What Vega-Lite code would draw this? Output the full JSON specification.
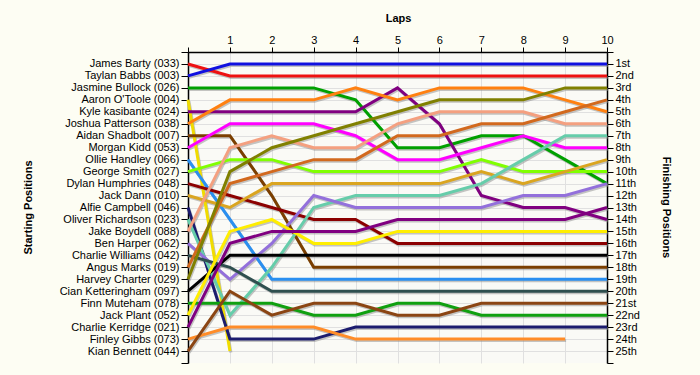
{
"$schema":"https://vega.github.io/schema/vega-lite/v6.json",
"width":419,"height":311,
"autosize":"none",
"padding":{"left":188,"top":52,"right":93,"bottom":12},
"background":"#fdfdf3",
"config":{"view":{"stroke":null,"fill":"#fafaf6"},"font":"Liberation Sans"},
"data":{"values":[
{"id":1,"lap":0,"pos":1},{"id":1,"lap":1,"pos":2},{"id":1,"lap":2,"pos":2},{"id":1,"lap":3,"pos":2},{"id":1,"lap":4,"pos":2},{"id":1,"lap":5,"pos":2},{"id":1,"lap":6,"pos":2},{"id":1,"lap":7,"pos":2},{"id":1,"lap":8,"pos":2},{"id":1,"lap":9,"pos":2},{"id":1,"lap":10,"pos":2},
{"id":2,"lap":0,"pos":2},{"id":2,"lap":1,"pos":1},{"id":2,"lap":2,"pos":1},{"id":2,"lap":3,"pos":1},{"id":2,"lap":4,"pos":1},{"id":2,"lap":5,"pos":1},{"id":2,"lap":6,"pos":1},{"id":2,"lap":7,"pos":1},{"id":2,"lap":8,"pos":1},{"id":2,"lap":9,"pos":1},{"id":2,"lap":10,"pos":1},
{"id":3,"lap":0,"pos":3},{"id":3,"lap":1,"pos":3},{"id":3,"lap":2,"pos":3},{"id":3,"lap":3,"pos":3},{"id":3,"lap":4,"pos":4},{"id":3,"lap":5,"pos":8},{"id":3,"lap":6,"pos":8},{"id":3,"lap":7,"pos":7},{"id":3,"lap":8,"pos":7},{"id":3,"lap":9,"pos":9},{"id":3,"lap":10,"pos":11},
{"id":4,"lap":0,"pos":4},{"id":4,"lap":1,"pos":25},
{"id":5,"lap":0,"pos":5},{"id":5,"lap":1,"pos":5},{"id":5,"lap":2,"pos":5},{"id":5,"lap":3,"pos":5},{"id":5,"lap":4,"pos":5},{"id":5,"lap":5,"pos":3},{"id":5,"lap":6,"pos":6},{"id":5,"lap":7,"pos":12},{"id":5,"lap":8,"pos":13},{"id":5,"lap":9,"pos":13},{"id":5,"lap":10,"pos":14},
{"id":6,"lap":0,"pos":6},{"id":6,"lap":1,"pos":4},{"id":6,"lap":2,"pos":4},{"id":6,"lap":3,"pos":4},{"id":6,"lap":4,"pos":3},{"id":6,"lap":5,"pos":4},{"id":6,"lap":6,"pos":3},{"id":6,"lap":7,"pos":3},{"id":6,"lap":8,"pos":3},{"id":6,"lap":9,"pos":4},{"id":6,"lap":10,"pos":5},
{"id":7,"lap":0,"pos":7},{"id":7,"lap":1,"pos":7},{"id":7,"lap":2,"pos":12},{"id":7,"lap":3,"pos":18},{"id":7,"lap":4,"pos":18},{"id":7,"lap":5,"pos":18},{"id":7,"lap":6,"pos":18},{"id":7,"lap":7,"pos":18},{"id":7,"lap":8,"pos":18},{"id":7,"lap":9,"pos":18},{"id":7,"lap":10,"pos":18},
{"id":8,"lap":0,"pos":8},{"id":8,"lap":1,"pos":6},{"id":8,"lap":2,"pos":6},{"id":8,"lap":3,"pos":6},{"id":8,"lap":4,"pos":7},{"id":8,"lap":5,"pos":9},{"id":8,"lap":6,"pos":9},{"id":8,"lap":7,"pos":8},{"id":8,"lap":8,"pos":7},{"id":8,"lap":9,"pos":8},{"id":8,"lap":10,"pos":8},
{"id":9,"lap":0,"pos":9},{"id":9,"lap":1,"pos":14},{"id":9,"lap":2,"pos":19},{"id":9,"lap":3,"pos":19},{"id":9,"lap":4,"pos":19},{"id":9,"lap":5,"pos":19},{"id":9,"lap":6,"pos":19},{"id":9,"lap":7,"pos":19},{"id":9,"lap":8,"pos":19},{"id":9,"lap":9,"pos":19},{"id":9,"lap":10,"pos":19},
{"id":10,"lap":0,"pos":10},{"id":10,"lap":1,"pos":9},{"id":10,"lap":2,"pos":9},{"id":10,"lap":3,"pos":10},{"id":10,"lap":4,"pos":10},{"id":10,"lap":5,"pos":10},{"id":10,"lap":6,"pos":10},{"id":10,"lap":7,"pos":9},{"id":10,"lap":8,"pos":10},{"id":10,"lap":9,"pos":10},{"id":10,"lap":10,"pos":10},
{"id":11,"lap":0,"pos":11},{"id":11,"lap":1,"pos":12},{"id":11,"lap":2,"pos":13},{"id":11,"lap":3,"pos":14},{"id":11,"lap":4,"pos":14},{"id":11,"lap":5,"pos":16},{"id":11,"lap":6,"pos":16},{"id":11,"lap":7,"pos":16},{"id":11,"lap":8,"pos":16},{"id":11,"lap":9,"pos":16},{"id":11,"lap":10,"pos":16},
{"id":12,"lap":0,"pos":12},{"id":12,"lap":1,"pos":13},{"id":12,"lap":2,"pos":11},{"id":12,"lap":3,"pos":11},{"id":12,"lap":4,"pos":11},{"id":12,"lap":5,"pos":11},{"id":12,"lap":6,"pos":11},{"id":12,"lap":7,"pos":10},{"id":12,"lap":8,"pos":11},{"id":12,"lap":9,"pos":10},{"id":12,"lap":10,"pos":9},
{"id":13,"lap":0,"pos":13},{"id":13,"lap":1,"pos":24},{"id":13,"lap":2,"pos":24},{"id":13,"lap":3,"pos":24},{"id":13,"lap":4,"pos":23},{"id":13,"lap":5,"pos":23},{"id":13,"lap":6,"pos":23},{"id":13,"lap":7,"pos":23},{"id":13,"lap":8,"pos":23},{"id":13,"lap":9,"pos":23},{"id":13,"lap":10,"pos":23},
{"id":14,"lap":0,"pos":14},{"id":14,"lap":1,"pos":22},{"id":14,"lap":2,"pos":18},{"id":14,"lap":3,"pos":13},{"id":14,"lap":4,"pos":12},{"id":14,"lap":5,"pos":12},{"id":14,"lap":6,"pos":12},{"id":14,"lap":7,"pos":11},{"id":14,"lap":8,"pos":9},{"id":14,"lap":9,"pos":7},{"id":14,"lap":10,"pos":7},
{"id":15,"lap":0,"pos":15},{"id":15,"lap":1,"pos":8},{"id":15,"lap":2,"pos":7},{"id":15,"lap":3,"pos":8},{"id":15,"lap":4,"pos":8},{"id":15,"lap":5,"pos":6},{"id":15,"lap":6,"pos":5},{"id":15,"lap":7,"pos":5},{"id":15,"lap":8,"pos":5},{"id":15,"lap":9,"pos":6},{"id":15,"lap":10,"pos":6},
{"id":16,"lap":0,"pos":16},{"id":16,"lap":1,"pos":19},{"id":16,"lap":2,"pos":16},{"id":16,"lap":3,"pos":12},{"id":16,"lap":4,"pos":13},{"id":16,"lap":5,"pos":13},{"id":16,"lap":6,"pos":13},{"id":16,"lap":7,"pos":13},{"id":16,"lap":8,"pos":12},{"id":16,"lap":9,"pos":12},{"id":16,"lap":10,"pos":11},
{"id":17,"lap":0,"pos":17},{"id":17,"lap":1,"pos":18},{"id":17,"lap":2,"pos":20},{"id":17,"lap":3,"pos":20},{"id":17,"lap":4,"pos":20},{"id":17,"lap":5,"pos":20},{"id":17,"lap":6,"pos":20},{"id":17,"lap":7,"pos":20},{"id":17,"lap":8,"pos":20},{"id":17,"lap":9,"pos":20},{"id":17,"lap":10,"pos":20},
{"id":18,"lap":0,"pos":18},{"id":18,"lap":1,"pos":11},{"id":18,"lap":2,"pos":10},{"id":18,"lap":3,"pos":9},{"id":18,"lap":4,"pos":9},{"id":18,"lap":5,"pos":7},{"id":18,"lap":6,"pos":7},{"id":18,"lap":7,"pos":6},{"id":18,"lap":8,"pos":6},{"id":18,"lap":9,"pos":5},{"id":18,"lap":10,"pos":4},
{"id":19,"lap":0,"pos":19},{"id":19,"lap":1,"pos":10},{"id":19,"lap":2,"pos":8},{"id":19,"lap":3,"pos":7},{"id":19,"lap":4,"pos":6},{"id":19,"lap":5,"pos":5},{"id":19,"lap":6,"pos":4},{"id":19,"lap":7,"pos":4},{"id":19,"lap":8,"pos":4},{"id":19,"lap":9,"pos":3},{"id":19,"lap":10,"pos":3},
{"id":20,"lap":0,"pos":20},{"id":20,"lap":1,"pos":17},{"id":20,"lap":2,"pos":17},{"id":20,"lap":3,"pos":17},{"id":20,"lap":4,"pos":17},{"id":20,"lap":5,"pos":17},{"id":20,"lap":6,"pos":17},{"id":20,"lap":7,"pos":17},{"id":20,"lap":8,"pos":17},{"id":20,"lap":9,"pos":17},{"id":20,"lap":10,"pos":17},
{"id":21,"lap":0,"pos":21},{"id":21,"lap":1,"pos":21},{"id":21,"lap":2,"pos":21},{"id":21,"lap":3,"pos":22},{"id":21,"lap":4,"pos":22},{"id":21,"lap":5,"pos":21},{"id":21,"lap":6,"pos":21},{"id":21,"lap":7,"pos":22},{"id":21,"lap":8,"pos":22},{"id":21,"lap":9,"pos":22},{"id":21,"lap":10,"pos":22},
{"id":22,"lap":0,"pos":22},{"id":22,"lap":1,"pos":15},{"id":22,"lap":2,"pos":14},{"id":22,"lap":3,"pos":16},{"id":22,"lap":4,"pos":16},{"id":22,"lap":5,"pos":15},{"id":22,"lap":6,"pos":15},{"id":22,"lap":7,"pos":15},{"id":22,"lap":8,"pos":15},{"id":22,"lap":9,"pos":15},{"id":22,"lap":10,"pos":15},
{"id":23,"lap":0,"pos":23},{"id":23,"lap":1,"pos":16},{"id":23,"lap":2,"pos":15},{"id":23,"lap":3,"pos":15},{"id":23,"lap":4,"pos":15},{"id":23,"lap":5,"pos":14},{"id":23,"lap":6,"pos":14},{"id":23,"lap":7,"pos":14},{"id":23,"lap":8,"pos":14},{"id":23,"lap":9,"pos":14},{"id":23,"lap":10,"pos":13},
{"id":24,"lap":0,"pos":24},{"id":24,"lap":1,"pos":23},{"id":24,"lap":2,"pos":23},{"id":24,"lap":3,"pos":23},{"id":24,"lap":4,"pos":24},{"id":24,"lap":5,"pos":24},{"id":24,"lap":6,"pos":24},{"id":24,"lap":7,"pos":24},{"id":24,"lap":8,"pos":24},{"id":24,"lap":9,"pos":24},
{"id":25,"lap":0,"pos":25},{"id":25,"lap":1,"pos":20},{"id":25,"lap":2,"pos":22},{"id":25,"lap":3,"pos":21},{"id":25,"lap":4,"pos":21},{"id":25,"lap":5,"pos":22},{"id":25,"lap":6,"pos":22},{"id":25,"lap":7,"pos":21},{"id":25,"lap":8,"pos":21},{"id":25,"lap":9,"pos":21},{"id":25,"lap":10,"pos":21}
]},
"layer":[
{"mark":{"type":"line","strokeWidth":3,"color":"#8c8c8c","opacity":0.5,"xOffset":1,"yOffset":1.5},
 "encoding":{
  "x":{"field":"lap","type":"quantitative","scale":{"domain":[0,10],"nice":false,"zero":false},
   "axis":{"orient":"top","values":[0,1,2,3,4,5,6,7,8,9,10],"labelExpr":"datum.value==0?'':datum.label","title":"Laps","titleX":210,"titleY":-34,"titleBaseline":"middle","titleAlign":"center","titleFontSize":11,"titleFontWeight":"bold","titleColor":"#000","labelFontSize":11,"labelColor":"#000","labelPadding":2,"tickSize":5,"tickColor":"#000","domainColor":"#000","domainWidth":1.5,"grid":true,"gridColor":"#e0e0e0","labelFlush":false,"labelBound":false}},
  "y":{"field":"pos","type":"quantitative","scale":{"domain":[0,26],"reverse":true,"nice":false,"zero":false},
   "axis":{"orient":"left","values":[0,1,2,3,4,5,6,7,8,9,10,11,12,13,14,15,16,17,18,19,20,21,22,23,24,25,26],
    "labelExpr":"['','James Barty (033)','Taylan Babbs (003)','Jasmine Bullock (026)',\"Aaron O'Toole (004)\",'Kyle kasibante (024)','Joshua Patterson (038)','Aidan Shadbolt (007)','Morgan Kidd (053)','Ollie Handley (066)','George Smith (027)','Dylan Humphries (048)','Jack Dann (010)','Alfie Campbell (046)','Oliver Richardson (023)','Jake Boydell (088)','Ben Harper (062)','Charlie Williams (042)','Angus Marks (019)','Harvey Charter (029)','Cian Ketteringham (097)','Finn Muteham (078)','Jack Plant (052)','Charlie Kerridge (021)','Finley Gibbs (073)','Kian Bennett (044)',''][datum.value]",
    "title":"Starting Positions","titleX":-160,"titleY":155,"titleAngle":-90,"titleBaseline":"middle","titleAlign":"center","titleFontSize":11,"titleFontWeight":"bold","titleColor":"#000",
    "labelFontSize":11,"labelColor":"#000","labelPadding":2,"tickSize":7,"tickColor":"#000","domainColor":"#000","domainWidth":1.5,
    "grid":true,"gridColor":{"condition":{"test":"datum.value==0||datum.value==26","value":"transparent"},"value":"#e0e0e0"},
    "labelOverlap":false,"labelFlush":false,"labelBound":false}},
  "detail":{"field":"id","type":"nominal"},
  "order":{"field":"lap","type":"quantitative"}}},
{"mark":{"type":"line","strokeWidth":3},
 "encoding":{
  "x":{"field":"lap","type":"quantitative"},
  "y":{"field":"pos","type":"quantitative",
   "axis":{"orient":"right","values":[0,1,2,3,4,5,6,7,8,9,10,11,12,13,14,15,16,17,18,19,20,21,22,23,24,25,26],
    "labelExpr":"['','1st','2nd','3rd','4th','5th','6th','7th','8th','9th','10th','11th','12th','13th','14th','15th','16th','17th','18th','19th','20th','21st','22nd','23rd','24th','25th',''][datum.value]",
    "title":"Finishing Positions","titleX":58,"titleY":155,"titleAngle":90,"titleBaseline":"middle","titleAlign":"center","titleFontSize":11,"titleFontWeight":"bold","titleColor":"#000",
    "labelFontSize":11,"labelColor":"#000","labelPadding":2,"tickSize":6,"tickColor":"#000","domainColor":"#000","domainWidth":1.5,"grid":false,
    "labelOverlap":false,"labelFlush":false,"labelBound":false}},
  "color":{"field":"id","type":"nominal","legend":null,
   "scale":{"domain":[1,2,3,4,5,6,7,8,9,10,11,12,13,14,15,16,17,18,19,20,21,22,23,24,25],
    "range":["#ee1111","#1010e0","#00a000","#f0dc00","#800080","#ff8010","#7b3f00","#ff00ff","#2a8ff0","#80ff00","#8b0000","#daa520","#1c1c6e","#66cdaa","#f4a080","#9370db","#2f4f4f","#d2691e","#808000","#000000","#10a010","#ffee00","#800080","#ff8c28","#8b4513"]}},
  "order":{"field":"lap","type":"quantitative"}}}
],
"resolve":{"axis":{"y":"independent"}}
}
